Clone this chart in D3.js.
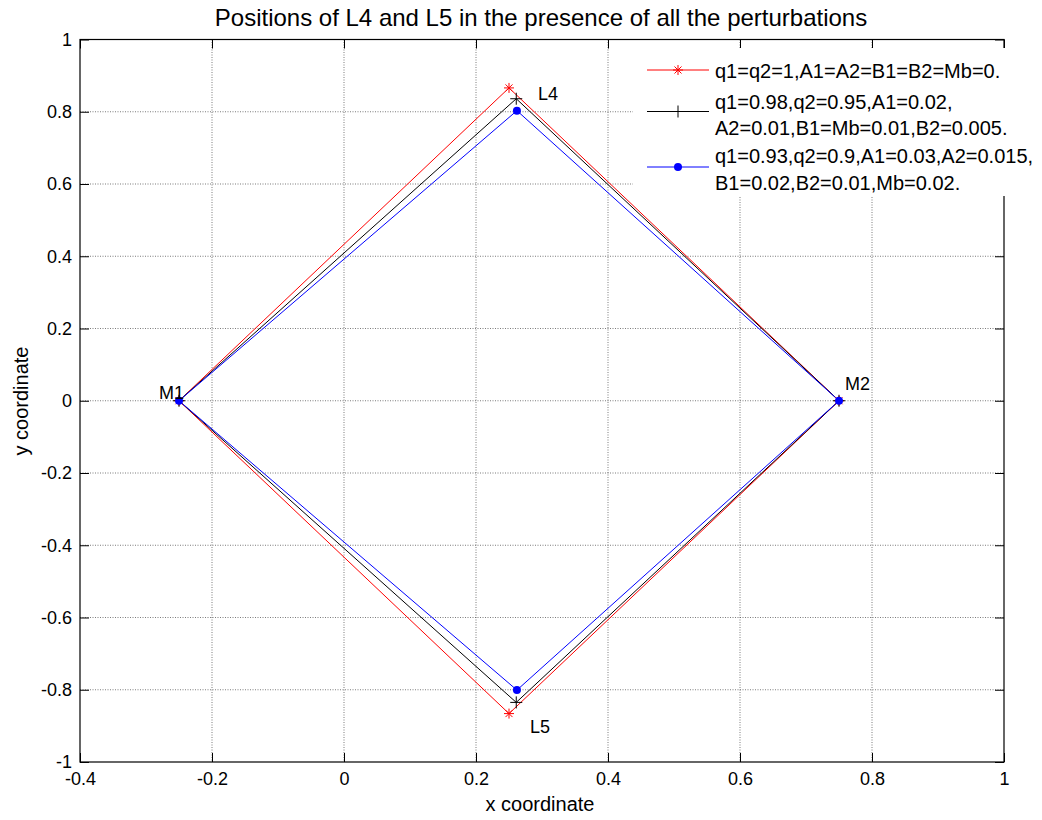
<!DOCTYPE html>
<html><head><meta charset="utf-8">
<script src="https://cdn.jsdelivr.net/npm/d3@7"></script>
<style>body{margin:0;background:#fff}svg{display:block}text{font-family:"Liberation Sans",Arial,sans-serif}</style>
</head><body><svg id="c" width="1042" height="820"></svg>
<script>
const title = "Positions of L4 and L5 in the presence of all the perturbations";
const xLabel = "x coordinate", yLabel = "y coordinate";
const xTicks = [-0.4,-0.2,0,0.2,0.4,0.6,0.8,1];
const yTicks = [-1,-0.8,-0.6,-0.4,-0.2,0,0.2,0.4,0.6,0.8,1];
const xTickLabels = ["-0.4","-0.2","0","0.2","0.4","0.6","0.8","1"];
const yTickLabels = ["-1","-0.8","-0.6","-0.4","-0.2","0","0.2","0.4","0.6","0.8","1"];
const seriesNames = ["q1=q2=1,A1=A2=B1=B2=Mb=0.",
  "q1=0.98,q2=0.95,A1=0.02,\nA2=0.01,B1=Mb=0.01,B2=0.005.",
  "q1=0.93,q2=0.9,A1=0.03,A2=0.015,\nB1=0.02,B2=0.01,Mb=0.02."];
const redX = [-0.25,0.25,0.75,0.25,-0.25], redY = [0,0.866,0,-0.866,0];
const blackX = [-0.25,0.261,0.75,0.261,-0.25], blackY = [0,0.836,0,-0.835,0];
const blueX = [-0.25,0.262,0.75,0.262,-0.25], blueY = [0,0.803,0,-0.801,0];
const labelPts = [{t:"M1",x:-0.25,y:0},{t:"L4",x:0.25,y:0.866},{t:"M2",x:0.75,y:0},{t:"L5",x:0.25,y:-0.866}];

const svg = d3.select("#c");
const L=80,R=1004,T=39.5,B=762;
const x = d3.scaleLinear().domain([-0.4,1]).range([L,R]);
const y = d3.scaleLinear().domain([-1,1]).range([B,T]);

// grid
const g = svg.append("g");
g.selectAll(".gx").data(xTicks.slice(1,-1)).join("line").attr("x1",d=>x(d)).attr("x2",d=>x(d)).attr("y1",T).attr("y2",B)
 .attr("stroke","#444").attr("stroke-width",0.7).attr("stroke-dasharray","1,1.5");
g.selectAll(".gy").data(yTicks.slice(1,-1)).join("line").attr("y1",d=>y(d)).attr("y2",d=>y(d)).attr("x1",L).attr("x2",R)
 .attr("stroke","#444").attr("stroke-width",0.7).attr("stroke-dasharray","1,1.5");

// axes
const ax = d3.axisBottom(x).tickValues(xTicks).tickSize(-9).tickPadding(10).tickFormat((d,i)=>xTickLabels[i]);
const ay = d3.axisLeft(y).tickValues(yTicks).tickSize(-9).tickPadding(8).tickFormat((d,i)=>yTickLabels[i]);
const axt = d3.axisTop(x).tickValues(xTicks).tickSize(-9).tickFormat("");
const ayr = d3.axisRight(y).tickValues(yTicks).tickSize(-9).tickFormat("");
function style(s){s.select(".domain").remove();s.selectAll("line").attr("stroke","#000");s.selectAll("text").attr("font-size",18).attr("fill","#000").style("font-family","'Liberation Sans',Arial,sans-serif");}
svg.append("g").attr("transform",`translate(0,${B})`).call(ax).call(style);
svg.append("g").attr("transform",`translate(${L},0)`).call(ay).call(style);
svg.append("g").attr("transform",`translate(0,${T})`).call(axt).call(style);
svg.append("g").attr("transform",`translate(${R},0)`).call(ayr).call(style);
svg.append("rect").attr("x",L).attr("y",T).attr("width",R-L).attr("height",B-T).attr("fill","none").attr("stroke","#000").attr("stroke-width",1.2);

// series
const series = [
 {xs:redX,ys:redY,color:"#ff0000",marker:"star"},
 {xs:blackX,ys:blackY,color:"#000000",marker:"plus"},
 {xs:blueX,ys:blueY,color:"#0000ff",marker:"dot"}];
const line = d3.line().x(d=>x(d[0])).y(d=>y(d[1]));
function drawMarker(sel,type,color,cx,cy){
  if(type==="dot"){sel.append("circle").attr("cx",cx).attr("cy",cy).attr("r",4).attr("fill",color);}
  else if(type==="plus"){const s=6;sel.append("path").attr("d",`M${cx-s},${cy}H${cx+s}M${cx},${cy-s}V${cy+s}`).attr("stroke",color).attr("stroke-width",1);}
  else {const s=5;const d=s*0.7;sel.append("path").attr("d",`M${cx-s},${cy}H${cx+s}M${cx},${cy-s}V${cy+s}M${cx-d},${cy-d}L${cx+d},${cy+d}M${cx-d},${cy+d}L${cx+d},${cy-d}`).attr("stroke",color).attr("stroke-width",1);}
}
series.forEach(s=>{
  const pts = s.xs.map((v,i)=>[v,s.ys[i]]);
  svg.append("path").attr("d",line(pts)).attr("fill","none").attr("stroke",s.color).attr("stroke-width",1);
});
series.forEach(s=>{
  const mg = svg.append("g");
  s.xs.slice(0,4).forEach((v,i)=>drawMarker(mg,s.marker,s.color,x(v),y(s.ys[i])));
});

// point labels
const lblOff = {M1:[-20,-2],L4:[29,12],M2:[6,-11],L5:[21,19]};
labelPts.forEach(p=>{
  const o = lblOff[p.t];
  svg.append("text").attr("x",x(p.x)+o[0]).attr("y",y(p.y)+o[1]).attr("font-size",18).attr("fill","#000").text(p.t);
});

// legend
const lg = svg.append("g");
lg.append("rect").attr("x",633).attr("y",48).attr("width",400).attr("height",148).attr("fill","#fff");
const rowsY = [70,111.5,167];
const textY = [[71],[102,128],[156,183]];
series.forEach((s,i)=>{
  lg.append("line").attr("x1",647).attr("x2",709).attr("y1",rowsY[i]).attr("y2",rowsY[i]).attr("stroke",s.color).attr("stroke-width",1);
  drawMarker(lg,s.marker,s.color,678,rowsY[i]);
  seriesNames[i].split("\n").forEach((t,j)=>{
    lg.append("text").attr("x",715).attr("y",textY[i][j]+7).attr("font-size",20).attr("fill","#000").text(t);
  });
});

// titles
svg.append("text").attr("x",541).attr("y",26).attr("text-anchor","middle").attr("font-size",24).text(title);
svg.append("text").attr("x",540).attr("y",811).attr("text-anchor","middle").attr("font-size",20).text(xLabel);
svg.append("text").attr("transform","translate(28,401) rotate(-90)").attr("text-anchor","middle").attr("font-size",20).text(yLabel);
</script></body></html>
